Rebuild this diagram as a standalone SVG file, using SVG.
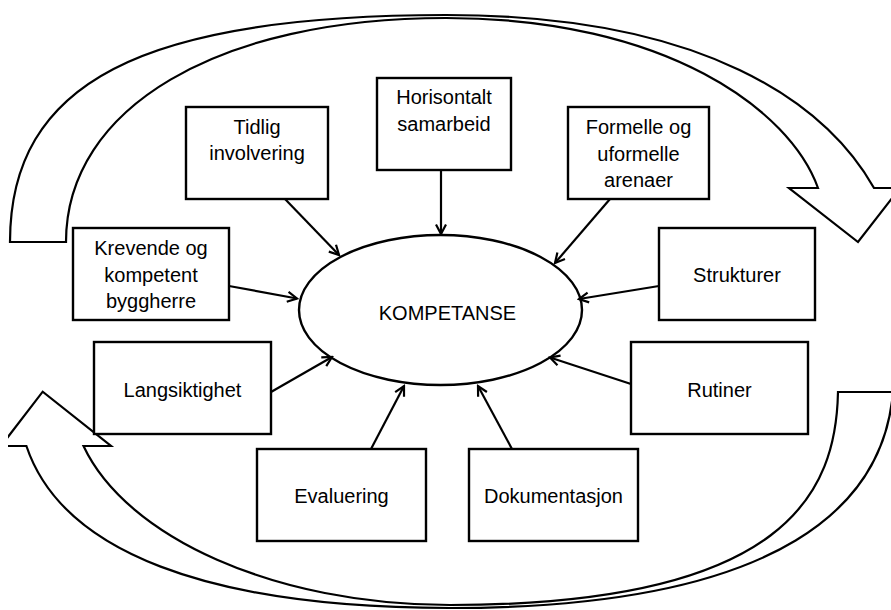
<svg xmlns="http://www.w3.org/2000/svg" width="891" height="610" viewBox="0 0 891 610">
  <style>
    .box { fill: #ffffff; stroke: #000000; stroke-width: 2.4; }
    .big { fill: #ffffff; stroke: #000000; stroke-width: 2.2; stroke-linejoin: miter; }
    .lbl { font-family: "Liberation Sans", Arial, sans-serif; font-size: 20px; fill: #000000; text-anchor: middle; }
    .conn { stroke: #000000; stroke-width: 2.2; fill: none; marker-end: url(#arrow); }
  </style>
  <defs>
    <marker id="arrow" markerUnits="userSpaceOnUse" viewBox="-12 -7 14 14" refX="0" refY="0" markerWidth="14" markerHeight="14" orient="auto">
      <path d="M -9.5,-5 L 0,0 L -9.5,5" fill="none" stroke="#000000" stroke-width="2.2"/>
    </marker>
    <clipPath id="leftclip">
      <rect x="8" y="0" width="900" height="610"/>
    </clipPath>
  </defs>

  <rect x="0" y="0" width="891" height="610" fill="#ffffff"/>

  <g id="cycle-arrow-top">
    <path class="big" d="M 10,242 C 10,83.1 140.8,15 446,15 C 706,15 826,104 874,188 L 900,188 L 858,242 L 789,188 L 818,188 C 790,110 666,18 446,18 C 218,18 66,107.6 66,242 Z"/>
  </g>
  <g id="cycle-arrow-bottom" clip-path="url(#leftclip)">
    <path class="big" d="M 893,392 C 884,500 790,608 450,608 C 207.7,608 61.9,551.7 26.4,446 L 1,446 L 42.7,391.7 L 111,446 L 83.5,446 C 126.3,537.2 274.7,605 450,605 C 790,605 836,490 838,392 Z"/>
  </g>

  <g id="node-kompetanse">
    <ellipse cx="440.5" cy="310" rx="141.5" ry="75" fill="#ffffff" stroke="#000000" stroke-width="2.4"/>
    <text class="lbl" x="447.5" y="320">KOMPETANSE</text>
  </g>

  <g id="connectors">
    <line class="conn" x1="285" y1="199" x2="339" y2="255"/>
    <line class="conn" x1="441" y1="170" x2="441" y2="234"/>
    <line class="conn" x1="610" y1="199" x2="555" y2="263"/>
    <line class="conn" x1="229" y1="286" x2="297" y2="298.5"/>
    <line class="conn" x1="659" y1="286" x2="579" y2="299"/>
    <line class="conn" x1="271" y1="392" x2="332" y2="357"/>
    <line class="conn" x1="631" y1="384" x2="550" y2="357.5"/>
    <line class="conn" x1="371" y1="449" x2="404" y2="386"/>
    <line class="conn" x1="512" y1="449" x2="478" y2="386"/>
  </g>

  <g id="node-tidlig">
    <rect class="box" x="186" y="107" width="142" height="92"/>
    <text class="lbl" x="257" y="133.5">Tidlig</text>
    <text class="lbl" x="257" y="160">involvering</text>
  </g>
  <g id="node-horisontalt">
    <rect class="box" x="377" y="78" width="134" height="92"/>
    <text class="lbl" x="444" y="104">Horisontalt</text>
    <text class="lbl" x="444" y="130.5">samarbeid</text>
  </g>
  <g id="node-formelle">
    <rect class="box" x="568" y="107" width="141" height="92"/>
    <text class="lbl" x="638.5" y="134">Formelle og</text>
    <text class="lbl" x="638.5" y="160.5">uformelle</text>
    <text class="lbl" x="638.5" y="187">arenaer</text>
  </g>
  <g id="node-krevende">
    <rect class="box" x="73" y="228" width="156" height="92"/>
    <text class="lbl" x="151" y="255">Krevende og</text>
    <text class="lbl" x="151" y="281.5">kompetent</text>
    <text class="lbl" x="151" y="308">byggherre</text>
  </g>
  <g id="node-strukturer">
    <rect class="box" x="659" y="228" width="156" height="92"/>
    <text class="lbl" x="737" y="282">Strukturer</text>
  </g>
  <g id="node-langsiktighet">
    <rect class="box" x="94" y="342" width="177" height="92"/>
    <text class="lbl" x="182.5" y="397">Langsiktighet</text>
  </g>
  <g id="node-rutiner">
    <rect class="box" x="631" y="342" width="177" height="92"/>
    <text class="lbl" x="719.5" y="397">Rutiner</text>
  </g>
  <g id="node-evaluering">
    <rect class="box" x="257" y="449" width="169" height="92"/>
    <text class="lbl" x="341.5" y="503">Evaluering</text>
  </g>
  <g id="node-dokumentasjon">
    <rect class="box" x="469" y="449" width="169" height="92"/>
    <text class="lbl" x="553.5" y="503">Dokumentasjon</text>
  </g>
</svg>
